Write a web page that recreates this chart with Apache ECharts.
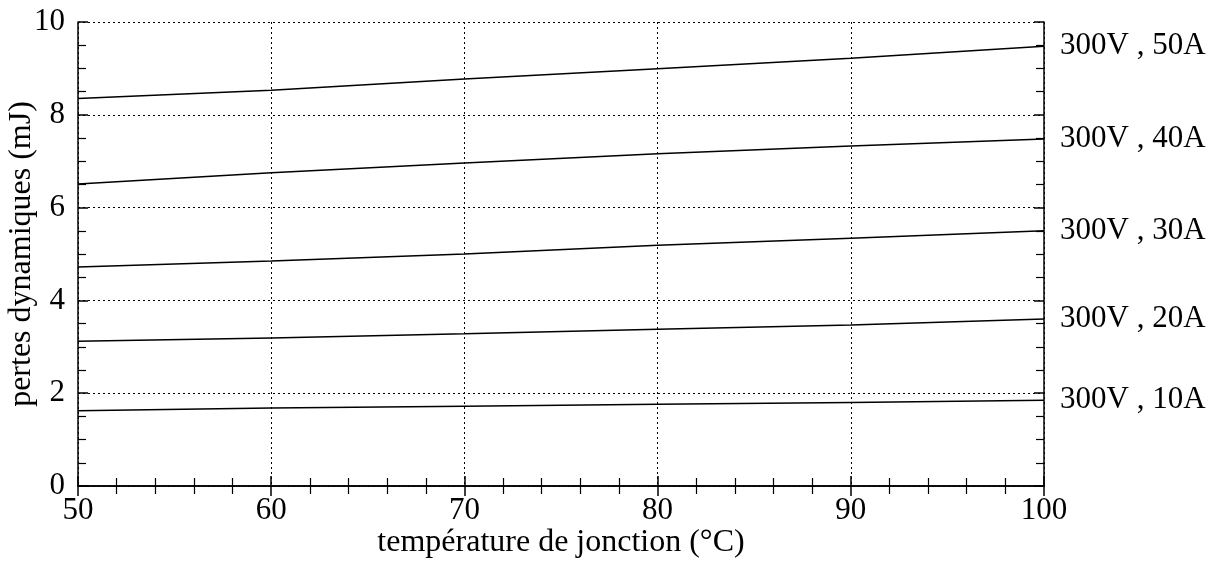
<!DOCTYPE html>
<html>
<head>
<meta charset="utf-8">
<script src="https://cdn.jsdelivr.net/npm/echarts@6/dist/echarts.min.js"></script>
<style>
  html, body { margin: 0; padding: 0; background: #fff; }
  #chart { width: 1219px; height: 561px; }
</style>
</head>
<body>
<div id="chart"></div>
<script>
// température de jonction (°C)
var temps = [50, 60, 70, 80, 90, 100];

// pertes dynamiques (mJ), une courbe par courant
var curve50A = [8.35, 8.53, 8.77, 8.99, 9.22, 9.48];
var curve40A = [6.51, 6.75, 6.96, 7.16, 7.33, 7.48];
var curve30A = [4.72, 4.85, 5.00, 5.19, 5.34, 5.50];
var curve20A = [3.12, 3.19, 3.28, 3.38, 3.47, 3.60];
var curve10A = [1.62, 1.68, 1.72, 1.76, 1.80, 1.85];

var curveNames = ['300V , 50A', '300V , 40A', '300V , 30A', '300V , 20A', '300V , 10A'];
var curves = [curve50A, curve40A, curve30A, curve20A, curve10A];

var font = 'Liberation Serif';

function pairs(ys) {
    return temps.map(function (t, i) { return [t, ys[i]]; });
}

var axisLine = {show: true, lineStyle: {color: '#000', width: 1.5}};
var grid = {show: true, lineStyle: {color: '#000', type: [2, 3], width: 1}};
var majorTick = {show: true, inside: true, length: 10, lineStyle: {color: '#000', width: 1.5}};

var myChart = echarts.init(document.getElementById('chart'));

myChart.setOption({
    animation: false,
    backgroundColor: '#fff',
    textStyle: {fontFamily: font},
    grid: {left: 78, right: 175, top: 22, bottom: 75, outerBoundsMode: 'none', containLabel: false},
    xAxis: [
        {
            type: 'value',
            min: 50, max: 100, interval: 10,
            name: 'température de jonction (°C)',
            nameLocation: 'middle',
            nameGap: 41,
            nameMoveOverlap: false,
            nameTextStyle: {fontFamily: font, fontSize: 32, color: '#000'},
            axisLine: axisLine,
            axisTick: majorTick,
            minorTick: {show: true, splitNumber: 5, length: 8, lineStyle: {color: '#000', width: 1.2}},
            axisLabel: {fontFamily: font, fontSize: 31, color: '#000', margin: 9},
            splitLine: grid
        },
        {
            type: 'value', position: 'top',
            min: 50, max: 100, interval: 10,
            axisLine: axisLine,
            axisTick: majorTick,
            minorTick: {show: true, splitNumber: 5, length: 8, lineStyle: {color: '#000', width: 1.2}},
            axisLabel: {show: false},
            splitLine: {show: false}
        }
    ],
    yAxis: [
        {
            type: 'value',
            min: 0, max: 10, interval: 2,
            name: 'pertes dynamiques (mJ)',
            nameLocation: 'middle',
            nameGap: 40,
            nameMoveOverlap: false,
            nameTextStyle: {fontFamily: font, fontSize: 32, color: '#000'},
            axisLine: axisLine,
            axisTick: majorTick,
            minorTick: {show: true, splitNumber: 4, length: 8, lineStyle: {color: '#000', width: 1.2}},
            axisLabel: {fontFamily: font, fontSize: 31, color: '#000', margin: 13},
            splitLine: grid
        },
        {
            type: 'value', position: 'right',
            min: 0, max: 10, interval: 2,
            axisLine: axisLine,
            axisTick: majorTick,
            minorTick: {show: true, splitNumber: 4, length: 8, lineStyle: {color: '#000', width: 1.2}},
            axisLabel: {show: false},
            splitLine: {show: false}
        }
    ],
    series: curves.map(function (ys, i) {
        return {
            name: curveNames[i],
            type: 'line',
            data: pairs(ys),
            showSymbol: false,
            symbol: 'none',
            lineStyle: {color: '#000', width: 1.5},
            endLabel: {
                show: true,
                formatter: curveNames[i],
                distance: 16,
                fontFamily: font,
                fontSize: 31,
                color: '#000'
            }
        };
    })
});
</script>
</body>
</html>
